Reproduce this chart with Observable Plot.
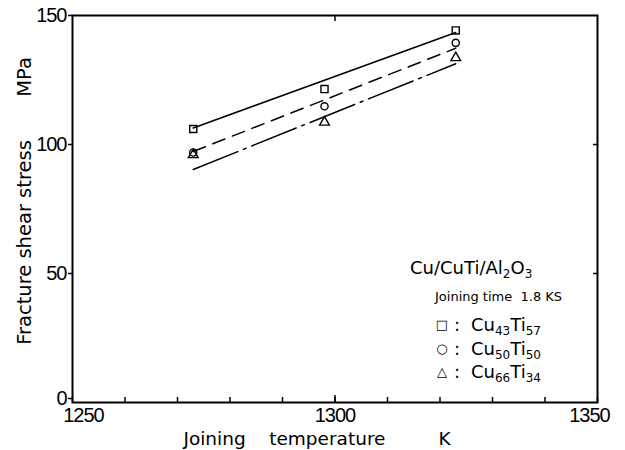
<!DOCTYPE html>
<html><head><meta charset="utf-8">
<script src="https://cdn.jsdelivr.net/npm/d3@7"></script>
<script src="https://cdn.jsdelivr.net/npm/@observablehq/plot@0.6"></script>
<style>
body{margin:0;background:#fff;}
#wrap{position:relative;width:625px;height:450px;font-family:"DejaVu Sans",sans-serif;color:#000;}
.lg{position:absolute;white-space:nowrap;line-height:1;}
.lg sub{font-size:12px;vertical-align:-4px;line-height:0;}
.sym{position:absolute;width:14px;text-align:center;font-size:13px;line-height:1;}
svg g[aria-label*="tick label"] text{letter-spacing:-1px;}
</style></head><body><div id="wrap"></div>
<script>
// ---- data ----
const temps = [1273, 1298, 1323];
const stressCu43Ti57 = [106.0, 121.5, 144.2];
const stressCu50Ti50 = [96.9, 114.8, 139.4];
const stressCu66Ti34 = [96.0, 108.6, 133.6];
const fitTemps = [1273, 1323];
const fitCu43Ti57 = [106.4, 143.4];
const fitCu50Ti50 = [97.3, 137.3];
const fitCu66Ti34 = [90.3, 131.3];
const yTicks = [0, 50, 100, 150];
const xMinorTicks = [1250, 1260, 1270, 1280, 1290, 1300, 1310, 1320, 1330, 1340, 1350];
const xLabelTicks = [1250, 1300, 1350];
const legendTitle = ["Cu/CuTi/Al", "2", "O", "3"];
const legendNote = "Joining time\u00a0\u00a01.8 KS";
const seriesLabels = [["Cu","43","Ti","57"],["Cu","50","Ti","50"],["Cu","66","Ti","34"]];
const seriesSymbols = ["\u25A1","\u25CB","\u25B3"];

const pts = s => temps.map((t,i)=>({t, v:s[i]}));
const fit = s => fitTemps.map((t,i)=>({t, v:s[i]}));
const tickFont = "'Liberation Sans',Arial,sans-serif";
const none = () => "";
const plain = d => String(d);

const plot = Plot.plot({
  width: 625, height: 450,
  marginLeft: 72, marginRight: 28, marginTop: 15, marginBottom: 48,
  style: {fontFamily: tickFont, fontSize: "20px", color: "#000", background: "#fff"},
  x: {domain: [1250, 1350]},
  y: {domain: [0, 150]},
  marks: [
    Plot.axisY(yTicks.slice(1), {anchor: "left", tickSize: 4, tickPadding: 2, tickFormat: plain, label: null, strokeWidth: 1.5}),
    Plot.axisY([yTicks[0]], {anchor: "left", tickSize: 4, tickPadding: 2, tickFormat: plain, label: null, strokeWidth: 1.5, dy: -4}),
    Plot.axisY([50, 100], {anchor: "right", tickSize: -5, tickFormat: none, label: null, strokeWidth: 1.5}),
    Plot.axisX(xMinorTicks, {anchor: "bottom", tickSize: -5, tickFormat: none, label: null, strokeWidth: 1.5}),
    Plot.axisX([1300], {anchor: "bottom", tickSize: -7, tickFormat: none, label: null, strokeWidth: 1.5}),
    Plot.axisX([1300], {anchor: "top", tickSize: -5, tickFormat: none, label: null, strokeWidth: 1.5}),
    Plot.axisX([xLabelTicks[0]], {anchor: "bottom", tickSize: 0, tickPadding: 5, tickFormat: plain, dx: 11, label: null}),
    Plot.axisX([xLabelTicks[1]], {anchor: "bottom", tickSize: 0, tickPadding: 5, tickFormat: plain, label: null}),
    Plot.axisX([xLabelTicks[2]], {anchor: "bottom", tickSize: 0, tickPadding: 5, tickFormat: plain, dx: -8, label: null}),
    Plot.frame({stroke: "#000", strokeWidth: 2}),
    Plot.line(fit(fitCu43Ti57), {x: "t", y: "v", stroke: "#000", strokeWidth: 1.5}),
    Plot.line(fit(fitCu50Ti50), {x: "t", y: "v", stroke: "#000", strokeWidth: 1.5, strokeDasharray: "13 8"}),
    Plot.line(fit(fitCu66Ti34), {x: "t", y: "v", stroke: "#000", strokeWidth: 1.5, strokeDasharray: "48 6 3 6"}),
    Plot.dot(pts(stressCu43Ti57), {x: "t", y: "v", symbol: "square", r: 4, stroke: "#000", strokeWidth: 1.4, fill: "none"}),
    Plot.dot(pts(stressCu50Ti50), {x: "t", y: "v", symbol: "circle", r: 3.6, stroke: "#000", strokeWidth: 1.4, fill: "none"}),
    Plot.dot(pts(stressCu66Ti34), {x: "t", y: "v", symbol: "triangle", r: 3.6, stroke: "#000", strokeWidth: 1.4, fill: "none"}),
    Plot.text(["Fracture shear stress\u00a0\u00a0\u00a0\u00a0\u00a0\u00a0\u00a0MPa"], {frameAnchor: "left", textAnchor: "middle", rotate: -90, dx: -48, dy: -8, fontFamily: "DejaVu Sans", fontSize: 19.5, fill: "#000"}),
    Plot.text(["Joining\u00a0\u00a0\u00a0\u00a0temperature\u00a0\u00a0\u00a0\u00a0\u00a0\u00a0\u00a0\u00a0\u00a0K"], {frameAnchor: "bottom", textAnchor: "middle", dx: -18, dy: 42, fontFamily: "DejaVu Sans", fontSize: 18.5, fill: "#000"})
  ]
});
const wrap = document.getElementById("wrap");
wrap.appendChild(plot);

function addDiv(html, left, top, size, cls) {
  const d = document.createElement("div");
  d.className = cls || "lg";
  d.style.left = left + "px"; d.style.top = top + "px"; d.style.fontSize = size + "px";
  d.innerHTML = html;
  wrap.appendChild(d);
}
addDiv(`${legendTitle[0]}<sub>${legendTitle[1]}</sub>${legendTitle[2]}<sub>${legendTitle[3]}</sub>`, 410, 259, 18);
addDiv(legendNote, 435, 290, 13);
const rowCenters = [325, 349, 372];
seriesLabels.forEach((p, i) => {
  addDiv(seriesSymbols[i], 435, rowCenters[i] - 7, 13, "sym");
  addDiv(":", 454, rowCenters[i] - 9, 18);
  addDiv(`${p[0]}<sub>${p[1]}</sub>${p[2]}<sub>${p[3]}</sub>`, 471, rowCenters[i] - 9, 18);
});
</script></body></html>
